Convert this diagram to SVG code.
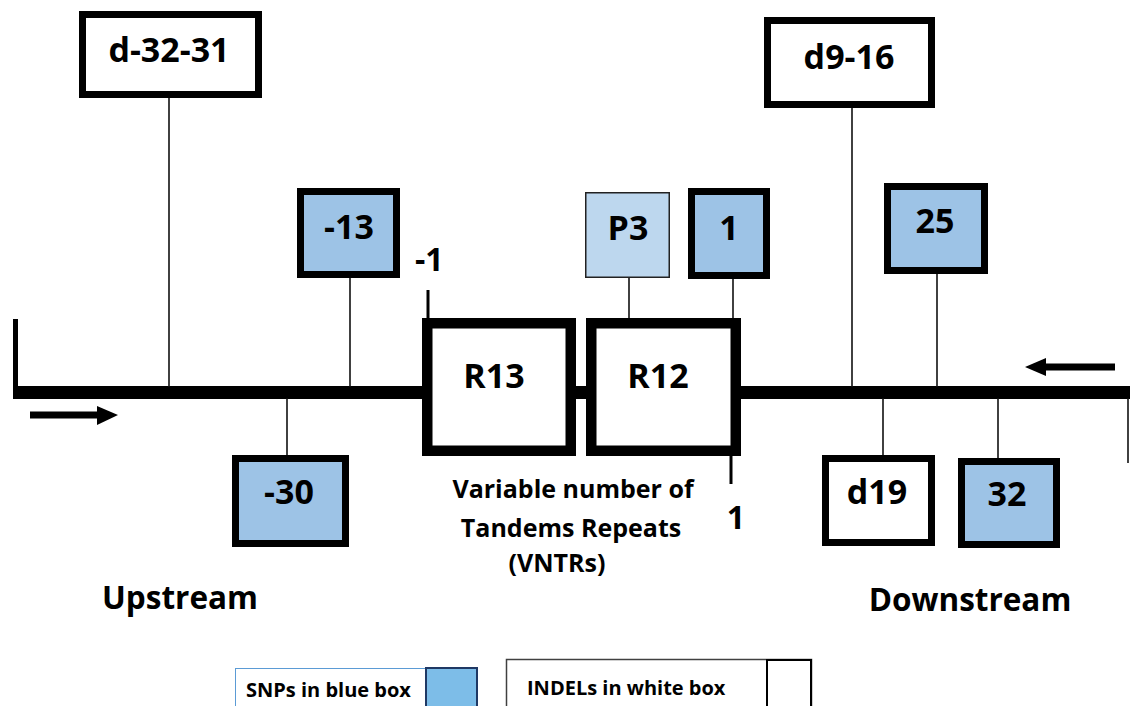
<svg xmlns="http://www.w3.org/2000/svg" width="1130" height="706" viewBox="0 0 1130 706">
<style>
  text { font-family: "Open Sans", "Liberation Sans", sans-serif; font-weight: bold; fill: #000; }
  .lbl { font-size: 34px; text-anchor: middle; }
  .rlbl { font-size: 34px; text-anchor: middle; }
  .num { font-size: 32px; }
  .big { font-size: 31.5px; text-anchor: middle; }
  .vn { font-size: 25px; text-anchor: middle; }
  .leg { font-size: 20px; }
  .snp { fill: #9DC3E6; stroke: #000; stroke-width: 7; }
  .indel { fill: #fff; stroke: #000; stroke-width: 7; }
  .rep { fill: #fff; stroke: #000; stroke-width: 10.5; }
  .conn { stroke: #111; stroke-width: 1.6; fill: none; }
  .tick { stroke: #000; stroke-width: 3; }
</style>

<g id="backbone">
  <line x1="13" y1="392.5" x2="1130" y2="392.5" stroke="#000" stroke-width="13"/>
  <rect x="13" y="319" width="5" height="80" fill="#000"/>
  <line x1="30" y1="415" x2="100" y2="415" stroke="#000" stroke-width="7"/>
  <polygon points="97,406 118,415 97,425" fill="#000"/>
  <line x1="1043" y1="367" x2="1115" y2="367" stroke="#000" stroke-width="7"/>
  <polygon points="1046,358 1025,367 1046,376" fill="#000"/>
</g>

<g id="connectors">
  <line class="conn" x1="169" y1="98" x2="169" y2="387"/>
  <line class="conn" x1="350" y1="278" x2="350" y2="387"/>
  <line class="conn" x1="287" y1="398" x2="287" y2="456"/>
  <line class="conn" x1="629" y1="278" x2="629" y2="319"/>
  <line class="conn" x1="733" y1="279" x2="733" y2="319"/>
  <line class="conn" x1="852" y1="108" x2="852" y2="387"/>
  <line class="conn" x1="937" y1="274" x2="937" y2="387"/>
  <line class="conn" x1="883" y1="398" x2="883" y2="456"/>
  <line class="conn" x1="998" y1="398" x2="998" y2="459"/>
  <line class="conn" x1="1128" y1="398" x2="1128" y2="463" stroke-width="2"/>
  <line class="tick" x1="428" y1="290" x2="428" y2="319"/>
  <line class="tick" x1="731" y1="455" x2="731" y2="484"/>
</g>

<g id="n-d3231">
  <rect class="indel" x="82.5" y="14.5" width="176" height="80"/>
  <text class="lbl" x="169" y="62">d-32-31</text>
</g>
<g id="n-m13">
  <rect class="snp" x="300.5" y="191.5" width="96" height="83"/>
  <text class="lbl" x="349" y="239">-13</text>
</g>
<g id="n-m30">
  <rect class="snp" x="235.5" y="458.5" width="110" height="85"/>
  <text class="lbl" x="289" y="504">-30</text>
</g>
<g id="n-p3">
  <rect x="585.75" y="192.75" width="83.5" height="84.5" fill="#BDD7EE" stroke="#222" stroke-width="1.5"/>
  <text class="lbl" x="628" y="240">P3</text>
</g>
<g id="n-1">
  <rect class="snp" x="691.5" y="191.5" width="75" height="84"/>
  <text class="lbl" x="729" y="240">1</text>
</g>
<g id="n-d916">
  <rect class="indel" x="767.5" y="20.5" width="164" height="84"/>
  <text class="lbl" x="849" y="69">d9-16</text>
</g>
<g id="n-25">
  <rect class="snp" x="887.5" y="186.5" width="97" height="84"/>
  <text class="lbl" x="935" y="233">25</text>
</g>
<g id="n-d19">
  <rect class="indel" x="825.5" y="458.5" width="106" height="84"/>
  <text class="lbl" x="877" y="504">d19</text>
</g>
<g id="n-32">
  <rect class="snp" x="961.5" y="461.5" width="95" height="83"/>
  <text class="lbl" x="1007" y="506">32</text>
</g>
<g id="n-r13">
  <rect class="rep" x="427.25" y="323.25" width="143.5" height="127.5"/>
  <text class="rlbl" x="494" y="388">R13</text>
</g>
<g id="n-r12">
  <rect class="rep" x="591.25" y="323.25" width="144.5" height="127.5"/>
  <text class="rlbl" x="658" y="388">R12</text>
</g>

<g id="labels">
  <text class="num" x="415" y="271">-1</text>
  <text class="num" x="736" y="529" text-anchor="middle">1</text>
  <text class="vn" x="573" y="498">Variable number of</text>
  <text class="vn" x="571" y="537">Tandems Repeats</text>
  <text class="vn" x="557" y="572">(VNTRs)</text>
  <text class="big" x="180" y="609">Upstream</text>
  <text class="big" x="970" y="611">Downstream</text>
</g>

<g id="legend-snp">
  <rect x="235.5" y="668.5" width="190" height="50" fill="#fff" stroke="#5B9BD5" stroke-width="1"/>
  <rect x="426" y="668" width="51" height="50" fill="#7DBDE8" stroke="#1F3864" stroke-width="2"/>
  <text class="leg" x="246" y="697">SNPs in blue box</text>
</g>
<g id="legend-indel">
  <rect x="506.5" y="659.5" width="305" height="60" fill="#fff" stroke="#404040" stroke-width="1.5"/>
  <rect x="767" y="660" width="44" height="60" fill="#fff" stroke="#000" stroke-width="2"/>
  <text class="leg" x="527" y="695">INDELs in white box</text>
</g>
</svg>
